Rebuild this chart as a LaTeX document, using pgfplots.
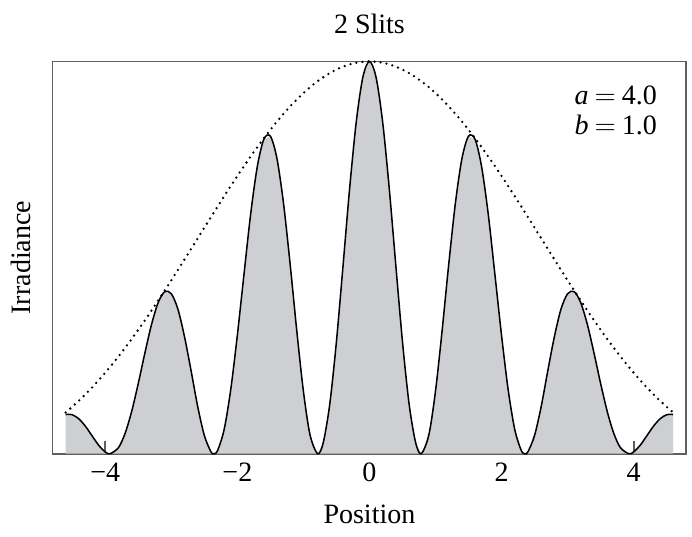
\documentclass[border={4.7pt 5.5pt 2pt 6pt},12pt]{standalone}
\usepackage{fontspec}
\setmainfont{Liberation Serif}
\usepackage{pgfplots}
\pgfplotsset{compat=1.18}
\usepackage{pgfplotstable}

\definecolor{fillgray}{RGB}{206,207,211}
\definecolor{axisgray}{RGB}{95,95,95}

% irradiance of the 2-slit pattern
\pgfplotstableread{
x I
-4.6 0.099896
-4.5 0.099275
-4.4 0.088848
-4.3 0.069799
-4.2 0.045563
-4.1 0.021552
-4.0 0.004376
-3.927 0
-3.8 0.015662
-3.7 0.051926
-3.6 0.108329
-3.5 0.179694
-3.4 0.257115
-3.3 0.329576
-3.2 0.384951
-3.1 0.413198
-3.0 0.407696
-2.9 0.368310
-2.8 0.297736
-2.7 0.210657
-2.6 0.119499
-2.5 0.046377
-2.4 0.004619
-2.3562 0
-2.3 0.007924
-2.2 0.062000
-2.1 0.164036
-2.0 0.302524
-1.9 0.456958
-1.8 0.609189
-1.7 0.730194
-1.6 0.801323
-1.5 0.809562
-1.4 0.751929
-1.3 0.636503
-1.2 0.481552
-1.1 0.312790
-1.0 0.159219
-0.9 0.048230
-0.7854 0
-0.7 0.027728
-0.6 0.127411
-0.5 0.285896
-0.4 0.478963
-0.3 0.676085
-0.2 0.845529
-0.1 0.959731
0.0 1.000000
0.1 0.959731
0.2 0.845529
0.3 0.676085
0.4 0.478963
0.5 0.285896
0.6 0.127411
0.7 0.027728
0.7854 0
0.9 0.048230
1.0 0.159219
1.1 0.312790
1.2 0.481552
1.3 0.636503
1.4 0.751929
1.5 0.809562
1.6 0.801323
1.7 0.730194
1.8 0.609189
1.9 0.456958
2.0 0.302524
2.1 0.164036
2.2 0.062000
2.3 0.007924
2.3562 0
2.4 0.004619
2.5 0.046377
2.6 0.119499
2.7 0.210657
2.8 0.297736
2.9 0.368310
3.0 0.407696
3.1 0.413198
3.2 0.384951
3.3 0.329576
3.4 0.257115
3.5 0.179694
3.6 0.108329
3.7 0.051926
3.8 0.015662
3.927 0
4.0 0.004376
4.1 0.021552
4.2 0.045563
4.3 0.069799
4.4 0.088848
4.5 0.099275
4.6 0.099896
}\irr

% single-slit envelope
\pgfplotstableread{
x E
-4.6 0.105119
-4.4 0.135055
-4.2 0.168964
-4.0 0.206705
-3.8 0.248057
-3.6 0.292710
-3.4 0.340276
-3.2 0.390292
-3.0 0.442221
-2.8 0.495465
-2.6 0.549376
-2.4 0.603261
-2.2 0.656405
-2.0 0.708073
-1.8 0.757532
-1.6 0.804062
-1.4 0.846972
-1.2 0.885613
-1.0 0.919395
-0.8 0.947792
-0.6 0.970357
-0.4 0.986738
-0.2 0.996671
0.0 1.000000
0.2 0.996671
0.4 0.986738
0.6 0.970357
0.8 0.947792
1.0 0.919395
1.2 0.885613
1.4 0.846972
1.6 0.804062
1.8 0.757532
2.0 0.708073
2.2 0.656405
2.4 0.603261
2.6 0.549376
2.8 0.495465
3.0 0.442221
3.2 0.390292
3.4 0.340276
3.6 0.292710
3.8 0.248057
4.0 0.206705
4.2 0.168964
4.4 0.135055
4.6 0.105119
}\env

\begin{document}
\begin{tikzpicture}
\begin{axis}[
  scale only axis,
  width=271.5pt, height=168pt,
  xmin=-4.8, xmax=4.8, ymin=0, ymax=1,
  xtick={-4,-2,0,2,4},
  xticklabels={−4,−2,0,2,4},
  xticklabel style={anchor=base, yshift=-12pt},
  xtick pos=bottom,
  tick align=inside,
  major tick length=5.5pt,
  ytick=\empty,
  axis line style={axisgray, line width=0.8pt},
  tick style={axisgray, line width=0.8pt},
  title={2 Slits},
  every axis title/.style={at={(axis description cs:0.5,1.0714)}, anchor=base, inner sep=0pt},
  xlabel={Position},
  xlabel style={at={(axis description cs:0.5,-0.1786)}, anchor=base, inner sep=0pt},
  ylabel={Irradiance},
  ylabel style={at={(axis description cs:-0.0348,0.5)}, anchor=base, inner sep=0pt},
  clip=false,
]
\addplot[draw=none, fill=fillgray] table[x=x, y=I] {\irr} \closedcycle;
\addplot[black, line width=0.65pt, smooth] table[x=x, y=I] {\irr};
\addplot[black, line width=1.1pt, smooth, line cap=round, dash pattern=on 0pt off 2.6pt] table[x=x, y=E] {\env};
\node[anchor=base east, inner sep=0pt] at (axis description cs:0.954,0.890)
  {\textit{a}\hspace{2.5pt}$=$\hspace{2.5pt}4.0};
\node[anchor=base east, inner sep=0pt] at (axis description cs:0.954,0.814)
  {\textit{b}\hspace{2.5pt}$=$\hspace{2.5pt}1.0};
\end{axis}
\end{tikzpicture}
\end{document}
